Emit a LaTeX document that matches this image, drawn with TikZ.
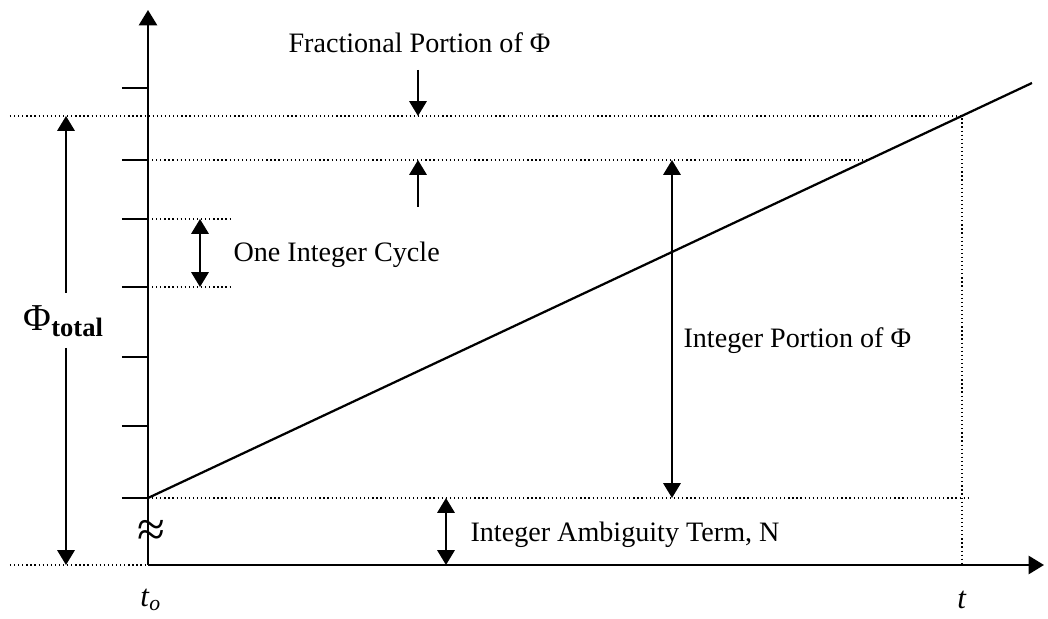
\documentclass[tikz,border=0pt]{standalone}
\usepackage{fontspec}
\setmainfont{Liberation Serif}
\usetikzlibrary{arrows.meta, positioning}

\begin{document}
\begin{tikzpicture}[x=0.0125cm, y=-0.0125cm,
    axis/.style={line width=0.8pt, -{Triangle[length=5.5pt, width=6.5pt]}},
    guide/.style={densely dotted, line width=0.45pt},
    span/.style={line width=0.7pt, {Triangle[length=5.3pt, width=6.2pt]}-{Triangle[length=5.3pt, width=6.2pt]}},
    pointer/.style={line width=0.7pt, -{Triangle[length=5.3pt, width=6.2pt]}},
    lbl/.style={font=\fontsize{10}{12}\selectfont, inner sep=0pt}]

\useasboundingbox (0,0) rectangle (1048,619);

% axes
\coordinate (o) at (148,565);
\coordinate (ytop) at (148,10);
\coordinate (xend) at (1044,565);
\draw[axis] (o) -- (ytop);
\draw[axis] (o) -- (xend);

% ticks
\foreach \y in {88,160,219,287,357,426,498}
  \draw[line width=0.8pt] (122,\y) -- (148,\y);

% phase ramp
\coordinate (start) at (148,498);
\coordinate (rend) at (1032,83);
\coordinate (tpt) at (962,116);
\coordinate (fpt) at (868,160);
\draw[line width=0.8pt] (start) -- (rend);

% guide lines
\coordinate (tfoot) at (962,565);
\draw[guide] (10,116) -- (tpt) -- (tfoot);
\draw[guide] (148,160) -- (fpt);
\draw[guide] (148,219) -- (232,219);
\draw[guide] (148,287) -- (232,287);
\draw[guide] (start) -- (968,498);
\draw[guide] (10,565) -- (o);

% labels
\node[lbl, anchor=west] (frac) at (288,43) {Fractional Portion of Φ};
\node[lbl, anchor=west] (cycle) at (233,255) {One Integer Cycle};
\node[lbl, anchor=west] (intpart) at (683,341) {Integer Portion of Φ};
\node[lbl, anchor=west] (ambig) at (470,535) {Integer Ambiguity Term, N};
\node[lbl, font=\fontsize{13.5}{15}\selectfont] (phitot) at (64,321) {Φ\textsubscript{\textbf{total}}};
\node[lbl, font=\fontsize{18}{20}\selectfont] (brk) at (151,533) {≈};
\node[lbl, font=\fontsize{11}{13}\selectfont] (tzero) at (151,600) {\textit{t}\textsubscript{\textit{o}}};
\node[lbl, font=\fontsize{11}{13}\selectfont] (tend) at (962,600) {\textit{t}};

% arrows
\coordinate (totup) at (66,293);
\coordinate (tottop) at (66,116);
\coordinate (totdn) at (66,348);
\coordinate (totbot) at (66,565);
\draw[pointer] (totup) -- (tottop);
\draw[pointer] (totdn) -- (totbot);

\coordinate (fa) at (418,70);
\coordinate (fb) at (418,116);
\coordinate (fc) at (418,207);
\coordinate (fd) at (418,160);
\draw[pointer] (fa) -- (fb);
\draw[pointer] (fc) -- (fd);

\coordinate (ca) at (200,219);
\coordinate (cb) at (200,287);
\draw[span] (ca) -- (cb);

\coordinate (ia) at (672,160);
\coordinate (ib) at (672,498);
\draw[span] (ia) -- (ib);

\coordinate (aa) at (446,498);
\coordinate (ab) at (446,565);
\draw[span] (aa) -- (ab);

\end{tikzpicture}
\end{document}
